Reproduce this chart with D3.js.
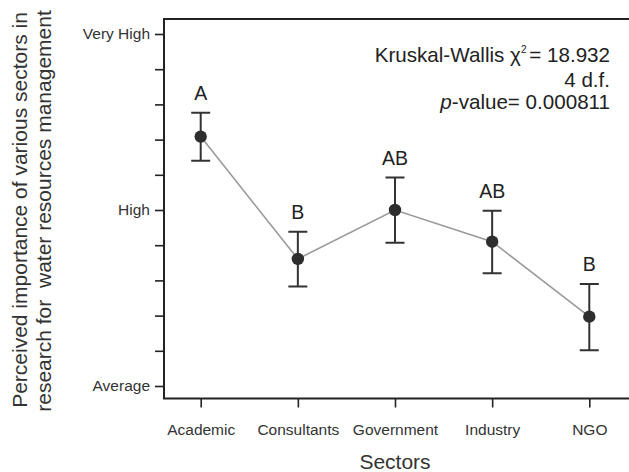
<!DOCTYPE html>
<html>
<head>
<meta charset="utf-8">
<script src="https://cdn.jsdelivr.net/npm/d3@7"></script>
<style>
  body { margin: 0; background: #fff; }
  svg { display: block; font-family: "Liberation Sans", Arial, Helvetica, sans-serif; }
</style>
</head>
<body>
<svg id="chart" width="629" height="472"></svg>
<script>
const sectors = ["Academic", "Consultants", "Government", "Industry", "NGO"];
const means = [4.417, 3.722, 4.0, 3.82, 3.394];
const upper = [4.553, 3.877, 4.184, 3.996, 3.58];
const lower = [4.28, 3.566, 3.814, 3.64, 3.203];
const groups = ["A", "B", "AB", "AB", "B"];
const yTickValues = [3, 3.2, 3.4, 3.6, 3.8, 4, 4.2, 4.4, 4.6, 4.8, 5];
const yTickLabels = {3: "Average", 4: "High", 5: "Very High"};
const annotation = { stat: "18.932", df: "4 d.f.", p: "0.000811" };

const svg = d3.select("#chart");
const ink = "#222";

const x = d3.scalePoint().domain(sectors).range([200.7, 589.3]);
const y = d3.scaleLinear().domain([3, 5]).range([386, 34]);

const frame = { left: 164, top: 19, bottom: 398.5, right: 660 };

// frame (left, top, bottom)
svg.append("path")
  .attr("d", `M${frame.right},${frame.top}H${frame.left}V${frame.bottom}H${frame.right}`)
  .attr("fill", "none").attr("stroke", ink).attr("stroke-width", 2);

// y axis
const yAxis = svg.append("g").attr("transform", `translate(${frame.left},0)`)
  .call(d3.axisLeft(y).tickValues(yTickValues).tickSize(9).tickPadding(5)
    .tickFormat(d => yTickLabels[Math.round(d * 10) / 10] || ""));
yAxis.select(".domain").remove();
yAxis.selectAll(".tick line").attr("stroke", ink).attr("stroke-width", 1.6);
yAxis.selectAll(".tick text").attr("fill", "#333").style("font-size", "15.5px")
  .style("font-family", "'Liberation Sans', Arial, sans-serif");

// x axis
const xAxis = svg.append("g").attr("transform", `translate(0,${frame.bottom})`)
  .call(d3.axisBottom(x).tickSize(9).tickPadding(16));
xAxis.select(".domain").remove();
xAxis.selectAll(".tick line").attr("stroke", ink).attr("stroke-width", 1.6);
xAxis.selectAll(".tick text").attr("fill", "#333").style("font-size", "15.5px")
  .style("font-family", "'Liberation Sans', Arial, sans-serif");

// axis titles
svg.append("text").attr("x", x("Government")).attr("y", 468.5)
  .attr("text-anchor", "middle").attr("fill", "#333").style("font-size", "21px").text("Sectors");

const yt = svg.append("text").attr("transform", "rotate(-90)")
  .attr("text-anchor", "middle").attr("fill", "#333").style("font-size", "21px")
  .style("white-space", "pre");
yt.append("tspan").attr("x", -210).attr("y", 26.5).text("Perceived importance of various sectors in");
yt.append("tspan").attr("x", -211).attr("y", 50.5).text("research for  water resources management");

// connecting line
const data = sectors.map((s, i) => ({ s, m: means[i], hi: upper[i], lo: lower[i], g: groups[i] }));
svg.append("path").datum(data)
  .attr("d", d3.line().x(d => x(d.s)).y(d => y(d.m)))
  .attr("fill", "none").attr("stroke", "#9a9a9a").attr("stroke-width", 1.6);

// error bars
const eb = svg.append("g").attr("stroke", "#333").attr("stroke-width", 2).attr("fill", "none");
data.forEach(d => {
  const cx = x(d.s);
  eb.append("path").attr("d",
    `M${cx},${y(d.hi)}V${y(d.lo)}M${cx - 9.5},${y(d.hi)}H${cx + 9.5}M${cx - 9.5},${y(d.lo)}H${cx + 9.5}`);
});

// points
svg.append("g").selectAll("circle").data(data).join("circle")
  .attr("cx", d => x(d.s)).attr("cy", d => y(d.m)).attr("r", 6.2).attr("fill", "#2e2e2e");

// group letters
svg.append("g").selectAll("text").data(data).join("text")
  .attr("x", d => x(d.s)).attr("y", d => y(d.hi) - 13)
  .attr("text-anchor", "middle").attr("fill", "#222").style("font-size", "19.5px")
  .text(d => d.g);

// annotation
const ann = svg.append("g").attr("fill", "#222").style("font-size", "20.6px").attr("text-anchor", "end")
  .style("white-space", "pre");
const t1 = ann.append("text").attr("x", 610).attr("y", 62);
t1.append("tspan").text("Kruskal-Wallis χ");
t1.append("tspan").style("font-size", "10px").attr("dy", -9).text("2 ");
t1.append("tspan").attr("dy", 9).text("= " + annotation.stat);
ann.append("text").attr("x", 610).attr("y", 86.5).text(annotation.df);
const t3 = ann.append("text").attr("x", 610).attr("y", 109);
t3.append("tspan").style("font-style", "italic").text("p");
t3.append("tspan").text("-value= " + annotation.p);
</script>
</body>
</html>
